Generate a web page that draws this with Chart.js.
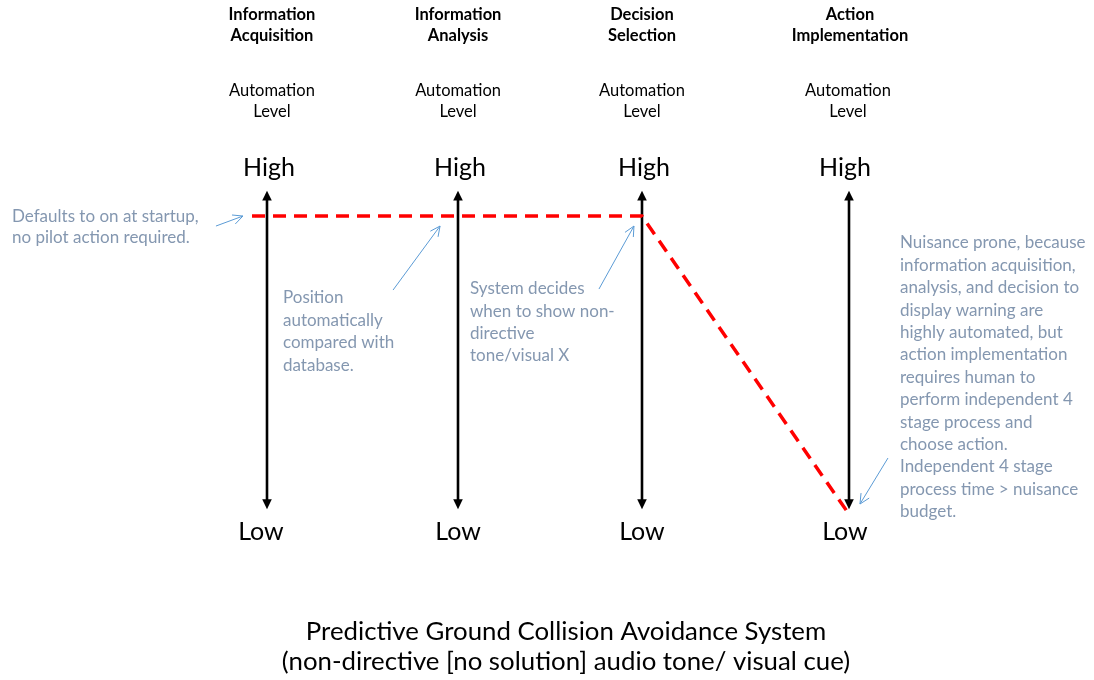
<!DOCTYPE html>
<html>
<head>
<meta charset="utf-8">
<script src="https://cdn.jsdelivr.net/npm/chart.js@4/dist/chart.umd.min.js"></script>
<style>
  html, body { margin: 0; padding: 0; background: #fff; }
  #wrap { width: 1094px; height: 680px; }
</style>
</head>
<body>
<div id="wrap"><canvas id="chart" width="1094" height="680"></canvas></div>
<script>
// stages along the x axis (positions, in stage units)
const stageNames = [
    ['Information', 'Acquisition'],
    ['Information', 'Analysis'],
    ['Decision', 'Selection'],
    ['Action', 'Implementation']
];
const stageX = [1, 1.985, 2.933, 4];
const levelLabels = ['Low', 'High'];
const levelValues = [0, 1];

// automation level path of the system (red dashed line)
const pathX = [0.923, 1, 1.985, 2.933, 4.005];
const pathLevel = [1, 1, 1, 1, -0.005];

// callout notes
const noteDefaults = ['Defaults to on at startup,', 'no pilot action required.'];
const notePosition = ['Position', 'automatically', 'compared with', 'database.'];
const noteSystem = ['System decides', 'when to show non-', 'directive', 'tone/visual X'];
const noteNuisance = [
    'Nuisance prone, because',
    'information acquisition,',
    'analysis, and decision to',
    'display warning are',
    'highly automated, but',
    'action implementation',
    'requires human to',
    'perform independent 4',
    'stage process and',
    'choose action.',
    'Independent 4 stage',
    'process time > nuisance',
    'budget.'
];
const chartTitle = [
    'Predictive Ground Collision Avoidance System',
    '(non-directive [no solution] audio tone/ visual cue)'
];

const FONT = 'Lato, "Open Sans", sans-serif';
const NOTE_COLOR = '#8497b0';
const CALLOUT_COLOR = '#5b9bd5';

function arrowHead(ctx, x1, y1, x2, y2, len, open) {
    const a = Math.atan2(y2 - y1, x2 - x1);
    const s = 0.45;
    ctx.beginPath();
    ctx.moveTo(x2 - len * Math.cos(a - s), y2 - len * Math.sin(a - s));
    ctx.lineTo(x2, y2);
    ctx.lineTo(x2 - len * Math.cos(a + s), y2 - len * Math.sin(a + s));
    if (open) {
        ctx.stroke();
    } else {
        ctx.closePath();
        ctx.fill();
    }
}

function callout(ctx, x1, y1, x2, y2) {
    ctx.save();
    ctx.strokeStyle = CALLOUT_COLOR;
    ctx.lineWidth = 1;
    ctx.beginPath();
    ctx.moveTo(x1, y1);
    ctx.lineTo(x2, y2);
    ctx.stroke();
    arrowHead(ctx, x1, y1, x2, y2, 11, true);
    ctx.restore();
}

function lines(ctx, arr, x, y, step) {
    arr.forEach((t, i) => ctx.fillText(t, x, y + i * step));
}

// level axes (double arrows) drawn under the red line
const levelAxes = {
    id: 'levelAxes',
    beforeDatasetsDraw(chart) {
        const ctx = chart.ctx;
        const xs = chart.scales.x, ys = chart.scales.y;
        const top = ys.getPixelForValue(1.085);
        const bottom = ys.getPixelForValue(0.016);
        ctx.save();
        ctx.strokeStyle = '#000';
        ctx.fillStyle = '#000';
        ctx.lineWidth = 2.6;
        stageX.forEach(v => {
            const x = Math.round(xs.getPixelForValue(v));
            ctx.beginPath();
            ctx.moveTo(x, top + 8);
            ctx.lineTo(x, bottom - 8);
            ctx.stroke();
            arrowHead(ctx, x, bottom + 20, x, top, 11, false);
            arrowHead(ctx, x, top - 20, x, bottom, 11, false);
        });
        ctx.restore();
    }
};

// all the text and callouts
const labels = {
    id: 'labels',
    afterDatasetsDraw(chart) {
        const ctx = chart.ctx;
        const xs = chart.scales.x, ys = chart.scales.y;
        const colX = stageX.map(v => xs.getPixelForValue(v));
        const hi = ys.getPixelForValue(levelValues[1]);
        const lo = ys.getPixelForValue(levelValues[0]);
        ctx.save();
        ctx.textBaseline = 'middle';
        ctx.textAlign = 'center';
        ctx.fillStyle = '#000';
        const headOffset = [5, 0, 0, 1];
        const autoOffset = [5, 0, 0, -1];
        colX.forEach((x, i) => {
            ctx.font = 'bold 16.5px ' + FONT;
            lines(ctx, stageNames[i], x + headOffset[i], 15, 21);
            ctx.font = '16.5px ' + FONT;
            lines(ctx, ['Automation', 'Level'], x + autoOffset[i], 91, 21);
            ctx.font = '25px ' + FONT;
            ctx.fillText(levelLabels[1], x + (i === 3 ? -4 : 2), 168);
            ctx.fillText(levelLabels[0], x + (i === 0 ? -6 : i === 3 ? -4 : 0), 532);
        });

        ctx.font = '25.8px ' + FONT;
        lines(ctx, chartTitle, 566, 632, 30);

        ctx.textAlign = 'left';
        ctx.fillStyle = NOTE_COLOR;
        ctx.font = '17px ' + FONT;
        lines(ctx, noteDefaults, 12, 217, 21);
        lines(ctx, notePosition, 283, 298, 22.5);
        lines(ctx, noteSystem, 470, 289, 22.3);
        lines(ctx, noteNuisance, 900, 243, 22.4);

        callout(ctx, colX[0] - 51, hi + 10, colX[0] - 24, hi);
        callout(ctx, colX[1] - 65, hi + 74, colX[1] - 18, hi + 10);
        callout(ctx, colX[2] - 43, hi + 73, colX[2] - 8, hi + 10);
        callout(ctx, colX[3] + 39, lo - 56, colX[3] + 11, lo - 10);
        ctx.restore();
    }
};

new Chart(document.getElementById('chart').getContext('2d'), {
    type: 'scatter',
    data: {
        datasets: [{
            label: 'Automation level',
            data: pathX.map((x, i) => ({ x: x, y: pathLevel[i] })),
            showLine: true,
            borderColor: '#ff0000',
            borderWidth: 3.5,
            borderDash: [13, 8],
            pointRadius: 0,
            fill: false
        }]
    },
    options: {
        responsive: false,
        animation: false,
        devicePixelRatio: 1,
        layout: { padding: 0 },
        plugins: {
            legend: { display: false },
            tooltip: { enabled: false },
            title: { display: false }
        },
        scales: {
            x: { type: 'linear', display: false, min: -0.376, max: 5.263 },
            y: { type: 'linear', display: false, min: -0.557, max: 1.725 }
        }
    },
    plugins: [levelAxes, labels]
});
</script>
</body>
</html>
